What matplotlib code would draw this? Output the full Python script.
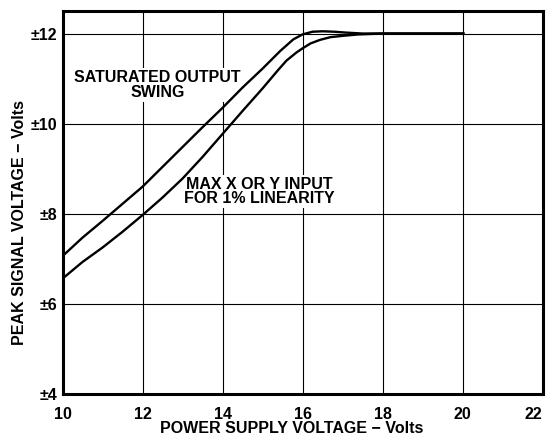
import matplotlib
matplotlib.use("Agg")
import matplotlib.pyplot as plt

# Data
sat_x = [10.0, 10.5, 11.0, 11.5, 12.0, 12.5, 13.0, 13.5, 14.0, 14.5, 15.0, 15.44, 15.77, 16.0, 16.25, 16.5, 16.8, 17.1, 17.5, 18.0, 20.05]
sat_y = [7.06, 7.47, 7.84, 8.22, 8.60, 9.04, 9.48, 9.92, 10.35, 10.80, 11.22, 11.61, 11.87, 11.98, 12.04, 12.05, 12.04, 12.02, 12.0, 12.0, 12.0]
lin_x = [10.0, 10.5, 11.0, 11.5, 12.0, 12.5, 13.0, 13.5, 14.0, 14.5, 15.0, 15.2, 15.4, 15.6, 15.85, 16.0, 16.2, 16.44, 16.7, 17.02, 17.4, 18.0, 20.05]
lin_y = [6.56, 6.93, 7.25, 7.60, 7.97, 8.36, 8.78, 9.26, 9.77, 10.28, 10.78, 10.99, 11.20, 11.40, 11.58, 11.67, 11.78, 11.86, 11.92, 11.95, 11.98, 12.0, 12.0]

xticks = [10, 12, 14, 16, 18, 20, 22]
yticks = [4, 6, 8, 10, 12]
ytick_labels = ["±4", "±6", "±8", "±10", "±12"]

plt.rcParams['font.family'] = ['Liberation Sans', 'DejaVu Sans']
plt.rcParams['font.weight'] = 'bold'

fig = plt.figure(figsize=(5.47, 4.36), dpi=100)
ax = fig.add_axes([62.5 / 547, 42 / 436, 480 / 547, 383 / 436])

ax.set_xlim(10, 22)
ax.set_ylim(4, 12.5)
ax.set_xticks(xticks)
ax.set_yticks(yticks)
xtl = ax.set_xticklabels([str(t) for t in xticks], fontsize=11.5, fontweight='bold')
xtl[-1].set_horizontalalignment('right')
ax.set_yticklabels(ytick_labels, fontsize=11.5, fontweight='bold')
ax.tick_params(axis='both', length=0)
ax.tick_params(axis='x', pad=9)
ax.tick_params(axis='y', pad=4)

ax.grid(True, color='black', linewidth=0.8, zorder=0)
ax.set_axisbelow(True)
for s in ax.spines.values():
    s.set_linewidth(2.2)
    s.set_zorder(5)

ax.plot(sat_x, sat_y, color='black', linewidth=1.7, zorder=3, solid_capstyle='butt', solid_joinstyle='round')
ax.plot(lin_x, lin_y, color='black', linewidth=1.7, zorder=3, solid_capstyle='butt', solid_joinstyle='round')

bb = dict(facecolor='white', edgecolor='none', pad=1.5)
ax.text(12.38, 10.86, "SATURATED OUTPUT\nSWING", ha='center', va='center',
        fontsize=11.5, fontweight='bold', linespacing=0.95, bbox=bb, zorder=2)
ax.text(14.91, 8.49, "MAX X OR Y INPUT\nFOR 1% LINEARITY", ha='center', va='center',
        fontsize=11.5, fontweight='bold', linespacing=0.95, bbox=bb, zorder=2)

ax.set_xlabel("POWER SUPPLY VOLTAGE − Volts", fontsize=11.5, fontweight='bold', va='top')
ax.xaxis.set_label_coords((292 - 62.5) / 480, (394 - 420.5) / 383)
ax.set_ylabel("PEAK SIGNAL VOLTAGE − Volts", fontsize=11.5, fontweight='bold', va='center')
ax.yaxis.set_label_coords((20 - 62.5) / 480, (394 - 222.5) / 383)

fig.savefig("out.png", dpi=100)
